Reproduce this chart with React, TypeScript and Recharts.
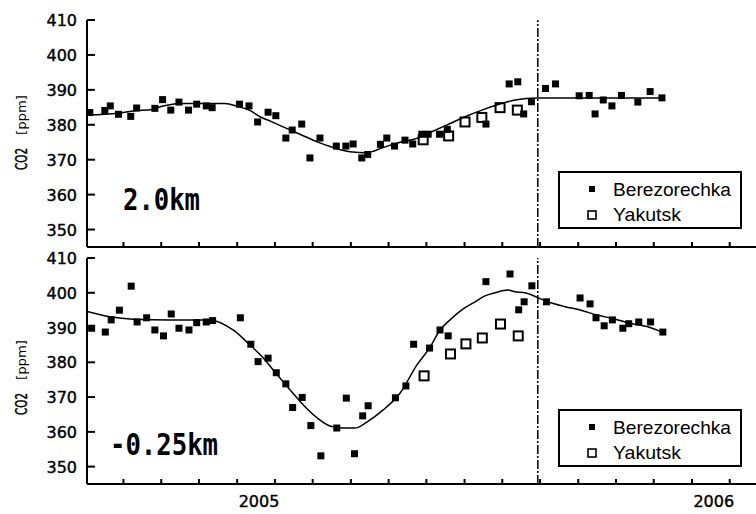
import { ComposedChart, Scatter, Line, XAxis, YAxis, ReferenceLine } from "recharts";

// Sonde CO2 profiles, [decimal year, ppm]
const berez2km: [number, number][] = [
  [2004.628, 383.5], [2004.661, 384.1], [2004.673, 385.4], [2004.691, 383.0], [2004.718, 382.4],
  [2004.731, 384.8], [2004.771, 384.7], [2004.788, 387.2], [2004.806, 384.2], [2004.824, 386.5],
  [2004.845, 384.2], [2004.863, 385.9], [2004.884, 385.4], [2004.897, 384.9], [2004.957, 385.9],
  [2004.978, 385.4], [2004.997, 380.8], [2005.02, 383.6], [2005.037, 382.6], [2005.059, 376.2],
  [2005.073, 378.5], [2005.094, 380.2], [2005.112, 370.5], [2005.134, 376.2], [2005.17, 373.9],
  [2005.191, 373.9], [2005.207, 374.5], [2005.226, 370.5], [2005.239, 371.5], [2005.267, 374.4],
  [2005.281, 376.2], [2005.298, 373.9], [2005.321, 375.6], [2005.338, 374.5], [2005.358, 377.3],
  [2005.372, 377.3], [2005.397, 377.3], [2005.414, 378.7], [2005.499, 380.2], [2005.55, 391.7],
  [2005.569, 392.3], [2005.582, 383.1], [2005.599, 386.6], [2005.63, 390.4], [2005.652, 391.7],
  [2005.704, 388.3], [2005.726, 388.4], [2005.739, 383.1], [2005.757, 387.1], [2005.776, 385.4],
  [2005.797, 388.4], [2005.833, 386.5], [2005.86, 389.5], [2005.886, 387.7],
];
const yakutsk2km: [number, number][] = [
  [2005.361, 375.7], [2005.417, 376.8], [2005.453, 380.8], [2005.49, 382.1], [2005.53, 384.9], [2005.568, 384.2],
];
const fit2km: [number, number][] = [
  [2004.622, 382.8], [2004.69, 383.3], [2004.727, 384.0], [2004.765, 384.4], [2004.789, 385.4],
  [2004.837, 386.1], [2004.875, 386.1], [2004.925, 386.1], [2004.954, 385.2], [2004.982, 384.0],
  [2005.002, 382.3], [2005.024, 381.1], [2005.053, 379.4], [2005.09, 377.3], [2005.128, 375.1],
  [2005.163, 373.5], [2005.2, 372.3], [2005.237, 372.0], [2005.273, 373.5], [2005.31, 375.0],
  [2005.347, 376.1], [2005.38, 378.0], [2005.416, 380.1], [2005.453, 382.3], [2005.49, 384.2],
  [2005.526, 385.8], [2005.563, 387.1], [2005.611, 387.7], [2005.886, 387.7],
];

const berez025km: [number, number][] = [
  [2004.632, 389.8], [2004.662, 388.7], [2004.675, 392.2], [2004.693, 395.0], [2004.719, 401.9],
  [2004.732, 391.6], [2004.753, 392.8], [2004.771, 389.3], [2004.79, 387.6], [2004.807, 393.9],
  [2004.824, 389.8], [2004.846, 389.3], [2004.863, 391.4], [2004.884, 391.6], [2004.898, 392.0],
  [2004.959, 392.8], [2004.982, 385.2], [2004.998, 380.2], [2005.02, 381.2], [2005.038, 377.0],
  [2005.059, 373.8], [2005.074, 367.0], [2005.095, 369.9], [2005.114, 361.8], [2005.136, 353.1],
  [2005.171, 361.1], [2005.192, 369.7], [2005.21, 353.7], [2005.228, 364.6], [2005.24, 367.5],
  [2005.3, 369.8], [2005.323, 373.2], [2005.34, 385.2], [2005.375, 384.1], [2005.398, 389.3],
  [2005.416, 387.6], [2005.499, 403.2], [2005.552, 405.4], [2005.571, 395.1], [2005.583, 397.4],
  [2005.6, 402.0], [2005.632, 397.4], [2005.706, 398.5], [2005.728, 396.8], [2005.741, 392.8],
  [2005.759, 390.5], [2005.777, 392.2], [2005.8, 389.8], [2005.813, 391.1], [2005.835, 391.6],
  [2005.861, 391.6], [2005.888, 388.7],
];
const yakutsk025km: [number, number][] = [
  [2005.363, 376.1], [2005.421, 382.4], [2005.455, 385.3], [2005.491, 387.0], [2005.531, 391.0], [2005.57, 387.6],
];
const fit025km: [number, number][] = [
  [2004.622, 394.6], [2004.672, 393.1], [2004.723, 392.4], [2004.804, 392.2], [2004.892, 392.2],
  [2004.943, 389.3], [2004.98, 385.0], [2005.007, 381.6], [2005.035, 377.2], [2005.068, 372.1],
  [2005.097, 367.8], [2005.128, 364.0], [2005.156, 361.7], [2005.185, 361.1], [2005.211, 361.1],
  [2005.237, 362.8], [2005.273, 366.3], [2005.31, 371.1], [2005.347, 379.2], [2005.376, 384.3],
  [2005.398, 389.3], [2005.416, 391.7], [2005.446, 395.1], [2005.475, 397.4], [2005.497, 399.1],
  [2005.519, 400.0], [2005.547, 400.8], [2005.563, 400.3], [2005.585, 400.0], [2005.613, 398.6],
  [2005.635, 397.4], [2005.673, 396.0], [2005.708, 395.0], [2005.743, 393.6], [2005.778, 392.6],
  [2005.816, 391.2], [2005.853, 390.3], [2005.888, 388.6],
];

const yearTicks = [2005, 2006];
const monthTicks = [
  2004.702, 2004.785, 2004.868, 2004.952, 2005.035, 2005.118, 2005.202, 2005.285, 2005.368,
  2005.452, 2005.535, 2005.618, 2005.702, 2005.785, 2005.868, 2005.952, 2006.035,
];
const ppmTicks = [350, 360, 370, 380, 390, 400, 410];
const xDomain: [number, number] = [2004.6218, 2006.1236];
const switchDate = 2005.613;

const toPoints = (rows: [number, number][]) => rows.map(([t, v]) => ({ t, v }));

const tickFont = { fontFamily: "DejaVu Sans", fontSize: 16, fill: "#000", stroke: "#000", strokeWidth: 0.4 };

const FilledSquare = (p: any) => (
  <rect x={p.cx - 3.5} y={p.cy - 3.5} width={7} height={7} fill="#000" />
);
const OpenSquare = (p: any) => (
  <rect x={p.cx - 4.5} y={p.cy - 4.5} width={9} height={9} fill="none" stroke="#000" strokeWidth={2} />
);

const BottomTick = (p: any) =>
  yearTicks.includes(p.payload.value) ? (
    <text x={p.x} y={p.y + 23} textAnchor="middle" {...tickFont}>
      {p.payload.value}
    </text>
  ) : (
    <line x1={p.x} y1={p.y} x2={p.x} y2={p.y - 5} stroke="#000" strokeWidth={2} />
  );

const TopTick = (p: any) => (
  <line x1={p.x} y1={p.y} x2={p.x} y2={p.y + 5} stroke="#000" strokeWidth={2} />
);

const PpmTick = (p: any) => (
  <g>
    <line x1={p.x} y1={p.y} x2={p.x + 8} y2={p.y} stroke="#000" strokeWidth={2} />
    <text x={p.x - 10} y={p.y + 6} textAnchor="end" {...tickFont}>
      {p.payload.value}
    </text>
  </g>
);

type PanelProps = {
  berez: [number, number][];
  yakutsk: [number, number][];
  fit: [number, number][];
  height: number;
  axisHeight: number;
  showYears: boolean;
};

function Panel({ berez, yakutsk, fit, height, axisHeight, showYears }: PanelProps) {
  const frame = { stroke: "#000", strokeWidth: 2 };
  return (
    <ComposedChart width={780} height={height} margin={{ top: 20, right: 10, bottom: 0, left: 0 }}>
      <XAxis
        dataKey="t"
        type="number"
        domain={xDomain}
        allowDataOverflow
        ticks={showYears ? [...monthTicks, ...yearTicks] : monthTicks}
        interval={0}
        tick={BottomTick}
        tickLine={false}
        tickSize={0}
        tickMargin={0}
        axisLine={frame}
        height={axisHeight}
      />
      <XAxis
        xAxisId="top"
        orientation="top"
        dataKey="t"
        type="number"
        domain={xDomain}
        allowDataOverflow
        ticks={monthTicks}
        interval={0}
        tick={TopTick}
        tickLine={false}
        tickSize={0}
        tickMargin={0}
        axisLine={frame}
        height={0}
      />
      <YAxis
        dataKey="v"
        type="number"
        domain={[345, 410]}
        allowDataOverflow
        ticks={ppmTicks}
        interval={0}
        tick={PpmTick}
        tickLine={false}
        tickSize={0}
        tickMargin={0}
        axisLine={frame}
        width={87}
      />
      <ReferenceLine x={switchDate} stroke="#000" strokeWidth={1.5} strokeDasharray="9 2 2 2" />
      <Line
        data={toPoints(fit)}
        dataKey="v"
        type="monotone"
        stroke="#000"
        strokeWidth={1.5}
        dot={false}
        isAnimationActive={false}
      />
      <Scatter data={toPoints(berez)} shape={FilledSquare} isAnimationActive={false} />
      <Scatter data={toPoints(yakutsk)} shape={OpenSquare} isAnimationActive={false} />
    </ComposedChart>
  );
}

function Legend({ top }: { top: number }) {
  const font = { fontFamily: "Liberation Sans", fontSize: 19, fill: "#000" };
  return (
    <g>
      <rect x={559} y={top} width={182} height={56} fill="#fff" stroke="#000" strokeWidth={2} />
      <rect x={589} y={top + 14} width={6} height={6} fill="#000" />
      <text x={613} y={top + 24} textLength={118} lengthAdjust="spacingAndGlyphs" {...font}>
        Berezorechka
      </text>
      <rect x={588} y={top + 39} width={8} height={8} fill="none" stroke="#000" strokeWidth={1.6} />
      <text x={613} y={top + 49} textLength={68} lengthAdjust="spacingAndGlyphs" {...font}>
        Yakutsk
      </text>
    </g>
  );
}

// rotated "CO2 [ppm]" title, bottom-to-top, first glyph at y = bottom
function AxisTitle({ bottom }: { bottom: number }) {
  return (
    <g transform={`translate(27, ${bottom}) rotate(-90)`} fill="#000" fontFamily="DejaVu Sans">
      <text x={0} y={0} fontSize={16} stroke="#000" strokeWidth={0.4} textLength={22} lengthAdjust="spacingAndGlyphs">
        CO2
      </text>
      <text x={35} y={-1} fontSize={13} textLength={40} lengthAdjust="spacingAndGlyphs">
        [ppm]
      </text>
    </g>
  );
}

export default function App() {
  const big = { fontFamily: "DejaVu Sans Mono", fontWeight: "bold" as const, fontSize: 30, fill: "#000" };
  return (
    <div style={{ position: "fixed", left: 0, top: 0, width: 756, height: 514, overflow: "hidden", background: "#fff" }}>
      <div style={{ position: "absolute", left: 0, top: 0 }}>
        <Panel berez={berez2km} yakutsk={yakutsk2km} fit={fit2km} height={258} axisHeight={11} showYears={false} />
      </div>
      <div style={{ position: "absolute", left: 0, top: 238 }}>
        <Panel berez={berez025km} yakutsk={yakutsk025km} fit={fit025km} height={276} axisHeight={30} showYears />
      </div>
      <svg width={756} height={514} style={{ position: "absolute", left: 0, top: 0, pointerEvents: "none" }}>
        <AxisTitle bottom={170} />
        <AxisTitle bottom={415} />
        <text x={123} y={210} textLength={77} lengthAdjust="spacingAndGlyphs" {...big}>2.0km</text>
        <text x={110} y={455} textLength={108} lengthAdjust="spacingAndGlyphs" {...big}>-0.25km</text>
        <Legend top={172} />
        <Legend top={410} />
      </svg>
    </div>
  );
}
